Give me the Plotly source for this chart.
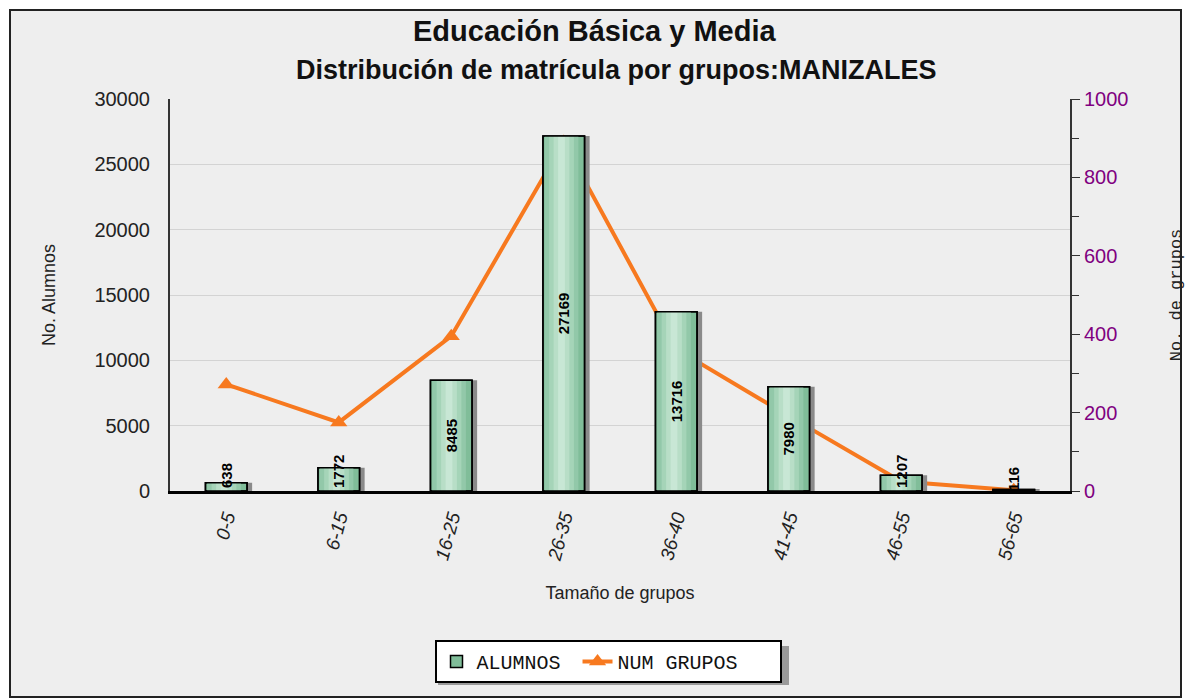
import plotly.graph_objects as go

categorias = ["0-5", "6-15", "16-25", "26-35", "36-40", "41-45", "46-55", "56-65"]
alumnos = [638, 1772, 8485, 27169, 13716, 7980, 1207, 116]
num_grupos = [272, 175, 395, 890, 362, 191, 24, 2]

W, H = 1190, 700
L, R, T, B = 170, 120, 99, 209
PW, PH = W - L - R, H - T - B

def px(x):  # page pixel -> paper
    return (x - L) / PW

def py(y):
    return (H - B - y) / PH

BW = 0.37
FIT = 3000  # labels of shorter bars are anchored at the base
txt_mid = [str(v) if v >= FIT else "" for v in alumnos]
txt_base = [str(v) if v < FIT else "" for v in alumnos]
label_font = dict(family="Liberation Sans", size=15, color="black", weight="bold")

fig = go.Figure()

fig.add_trace(go.Scatter(
    x=categorias, y=num_grupos, name="NUM GRUPOS\u00a0\u00a0\u00a0", yaxis="y",
    mode="lines+markers",
    line=dict(color="#f7791f", width=4),
    marker=dict(symbol="triangle-up", size=15, color="#f7791f"),
    cliponaxis=False,
))

fig.add_trace(go.Bar(
    x=categorias, y=alumnos, yaxis="y2", showlegend=False, hoverinfo="skip",
    offset=-BW / 2 + 0.045, width=BW,
    marker=dict(color="#8a8a8a", line=dict(width=0)),
))
fig.add_trace(go.Bar(
    x=categorias, y=alumnos, yaxis="y2", name="ALUMNOS\u00a0",
    offset=-BW / 2, width=BW,
    marker=dict(color="#80bd99", line=dict(color="black", width=1.5)),
))
for w, c in [(0.30, "#92c8a9"), (0.22, "#a5d4b8"), (0.14, "#b8dec7"), (0.06, "#c8e7d5")]:
    fig.add_trace(go.Bar(
        x=categorias, y=alumnos, yaxis="y2", showlegend=False, hoverinfo="skip",
        offset=-w / 2 - 0.02, width=w,
        marker=dict(color=c, line=dict(width=0)),
    ))
fig.add_trace(go.Bar(
    x=categorias, y=alumnos, yaxis="y2", showlegend=False, hoverinfo="skip",
    offset=-BW / 2, width=BW,
    marker=dict(color="rgba(0,0,0,0)", line=dict(color="black", width=1.5)),
    text=txt_mid, textposition="inside",
    insidetextanchor="middle", textangle=-90, constraintext="none",
    textfont=label_font, cliponaxis=True,
))
fig.add_trace(go.Bar(
    x=categorias, y=alumnos, yaxis="y2", showlegend=False, hoverinfo="skip",
    offset=-BW / 2, width=BW,
    marker=dict(color="rgba(0,0,0,0)", line=dict(width=0)),
    text=txt_base, textposition="inside",
    insidetextanchor="start", textangle=-90, constraintext="none",
    textfont=label_font, cliponaxis=True,
))

fig.update_layout(
    width=W, height=H,
    margin=dict(l=L, r=R, t=T, b=B, autoexpand=False),
    paper_bgcolor="white", plot_bgcolor="white",
    barmode="overlay",
    uniformtext=dict(minsize=15, mode="show"),
    font=dict(family="Liberation Sans", color="#222222"),
    xaxis=dict(
        type="category", range=[-0.5, 7.5],
        showline=True, linecolor="black", linewidth=2.5,
        ticks="", tickangle=-75, ticklabelstandoff=5,
        tickfont=dict(family="Liberation Sans", size=19, color="#222222", style="italic"),
        title=dict(text="Tamaño de grupos", standoff=24,
                   font=dict(family="Liberation Sans", size=18, color="#222222")),
        showgrid=False,
    ),
    yaxis=dict(
        side="right", range=[0, 1000], dtick=200,
        showline=True, linecolor="#333333", linewidth=2,
        ticks="outside", ticklen=8, tickcolor="#333333",
        minor=dict(dtick=100, ticks="outside", ticklen=7, tickcolor="#333333", showgrid=False),
        tickfont=dict(family="Liberation Sans", size=20, color="#800080"),
        showgrid=False, zeroline=False,
        title=dict(text="No. de grupos", standoff=42,
                   font=dict(family="Liberation Mono", size=17, color="#222222")),
    ),
    yaxis2=dict(
        overlaying="y", side="left", range=[0, 30000], dtick=5000, tickformat="d",
        showline=True, linecolor="#333333", linewidth=2,
        ticks="", ticklabelstandoff=14,
        tickfont=dict(family="Liberation Sans", size=20, color="#222222"),
        showgrid=True, gridcolor="#d3d3d3", gridwidth=1, zeroline=False,
        title=dict(text="No. Alumnos", standoff=34,
                   font=dict(family="Liberation Sans", size=18, color="#222222")),
    ),
    legend=dict(
        orientation="h", x=px(608), xanchor="center", y=py(640), yanchor="top",
        bgcolor="white", bordercolor="black", borderwidth=2,
        font=dict(family="Liberation Mono", size=20, color="#111111"),
        traceorder="reversed", itemwidth=30,
    ),
    showlegend=True,
)

fig.add_annotation(
    text="<b>Educación Básica y Media</b>", xref="paper", yref="paper",
    x=px(595), y=py(31), xanchor="center", yanchor="middle", showarrow=False,
    font=dict(family="Liberation Sans", size=29, color="#111111"),
)
fig.add_annotation(
    text="<b>Distribución de matrícula por grupos:MANIZALES</b>", xref="paper", yref="paper",
    x=px(616), y=py(70), xanchor="center", yanchor="middle", showarrow=False,
    font=dict(family="Liberation Sans", size=27, color="#111111"),
)

fig.add_shape(type="rect", xref="paper", yref="paper",
              x0=px(10), x1=px(1181), y0=py(697), y1=py(10),
              fillcolor="#eeeeee", line=dict(color="#222222", width=2), layer="below")
fig.add_shape(type="rect", xref="paper", yref="paper",
              x0=px(438), x1=px(789), y0=py(685), y1=py(646),
              fillcolor="#9a9a9a", line=dict(width=0), layer="below")

fig.write_html("out.html", config={"displayModeBar": False},
               post_script="document.body.style.margin='0';")
